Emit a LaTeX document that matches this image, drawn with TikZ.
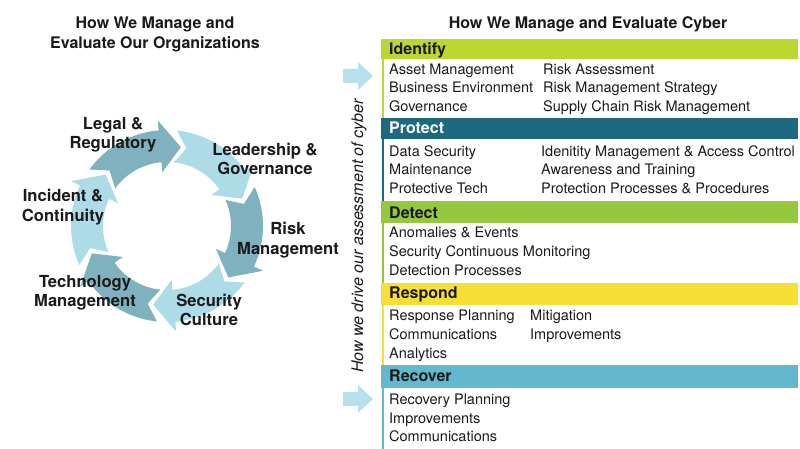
\documentclass[tikz,border=0pt]{standalone}
\usepackage{fontspec}
\setmainfont{TeX Gyre Heros}
\usepackage{tikz}
\usetikzlibrary{positioning,calc}
\definecolor{idgreen}{HTML}{BED630}
\definecolor{protblue}{HTML}{1C6980}
\definecolor{detgreen}{HTML}{95C83F}
\definecolor{respyellow}{HTML}{F8DF36}
\definecolor{recblue}{HTML}{63B8CD}
\definecolor{arrdark}{HTML}{80B1BE}
\definecolor{arrlight}{HTML}{ADDCE8}
\definecolor{sidearrow}{HTML}{B8E0EB}
\definecolor{ink}{HTML}{1A1A1A}

\begin{document}
\begin{tikzpicture}[x=1pt, y=-1pt,
    title/.style={align=center, text=ink, font=\fontsize{16}{20}\selectfont\bfseries},
    cyclabel/.style={align=center, text=ink, font=\fontsize{16.6}{19.5}\selectfont\bfseries},
    header/.style={anchor=base west, inner sep=0pt, text=ink, font=\fontsize{16}{19}\selectfont\bfseries},
    item/.style={anchor=base west, inner sep=0pt, text=ink, font=\fontsize{14.5}{17}\selectfont}]
    \useasboundingbox (0,0) rectangle (800,449);

    % Titles
    \node[title] (orgtitle) at (155,34) {How We Manage and\\Evaluate Our Organizations};
    \node[title] (cybertitle) at (588,24) {How We Manage and Evaluate Cyber};

    % Cycle of six curved arrows
    \begin{scope}[shift={(167,226)}, yscale=-1]
    \foreach \tailang/\col in {136/arrdark, 76/arrlight, 16/arrdark, -44/arrlight, -104/arrdark, -164/arrlight}{
        \pgfmathsetmacro{\tipang}{\tailang-56}
        \pgfmathsetmacro{\headang}{\tipang+15}
        \pgfmathsetmacro{\backang}{\tailang+8}
        \fill[\col] (\backang:96) arc[start angle=\backang, end angle=\headang, radius=96]
            -- (\headang:106) -- (\tipang:80) -- (\headang:54) -- (\headang:64)
            arc[start angle=\headang, end angle=\backang, radius=64] -- (\tailang:80) -- cycle;
    }
    \end{scope}

    % Cycle labels
    \node[cyclabel] (legal) at (113,135) {Legal \&\\Regulatory};
    \node[cyclabel] (leader) at (265,159) {Leadership \&\\Governance};
    \node[cyclabel] (risk) at (288,240) {Risk\\Management};
    \node[cyclabel] (culture) at (209,310) {Security\\Culture};
    \node[cyclabel] (techmgmt) at (85,293) {Technology\\Management};
    \node[cyclabel] (incident) at (63,207) {Incident \&\\Continuity};

    % Side arrows and rotated caption
    \fill[sidearrow] (343,69) -- (358,69) -- (358,62) -- (373,76) -- (358,90) -- (358,83) -- (343,83) -- cycle;
    \fill[sidearrow] (343,392) -- (358,392) -- (358,385) -- (373,399) -- (358,413) -- (358,406) -- (343,406) -- cycle;
    \node[rotate=90, text=ink, font=\fontsize{16}{19}\selectfont\itshape] (drive) at (359,236)
        {How we drive our assessment of cyber};

    % Identify
    \fill[idgreen] (381,39) rectangle (798,59.5);
    \draw[idgreen, line width=2pt] (382.5,59.5) -- (382.5,118);
    \node[header] (identify) at (389,55) {Identify};
    \node[item] (id1) at (389,74.3) {Asset Management};
    \node[item] (id2) at (389,92.7) {Business Environment};
    \node[item] (id3) at (389,111.7) {Governance};
    \node[item] (id4) at (543,74.3) {Risk Assessment};
    \node[item] (id5) at (543,92.7) {Risk Management Strategy};
    \node[item] (id6) at (543,111.7) {Supply Chain Risk Management};

    % Protect
    \fill[protblue] (381,118) rectangle (798,139);
    \draw[protblue, line width=2pt] (382.5,139) -- (382.5,201);
    \node[header, text=white] (protect) at (389,134) {Protect};
    \node[item] (pr1) at (389,156.5) {Data Security};
    \node[item] (pr2) at (389,175) {Maintenance};
    \node[item] (pr3) at (389,193.5) {Protective Tech};
    \node[item] (pr4) at (541,156.5) {Idenitity Management \& Access Control};
    \node[item] (pr5) at (541,175) {Awareness and Training};
    \node[item] (pr6) at (541,193.5) {Protection Processes \& Procedures};

    % Detect
    \fill[detgreen] (381,201) rectangle (798,223);
    \draw[detgreen, line width=2pt] (382.5,223) -- (382.5,283);
    \node[header] (detect) at (389,218.3) {Detect};
    \node[item] (de1) at (389,237.7) {Anomalies \& Events};
    \node[item] (de2) at (389,256.2) {Security Continuous Monitoring};
    \node[item] (de3) at (389,275) {Detection Processes};

    % Respond
    \fill[respyellow] (381,283) rectangle (798,305);
    \draw[respyellow, line width=2pt] (382.5,305) -- (382.5,365);
    \node[header] (respond) at (389,298.3) {Respond};
    \node[item] (re1) at (389,320.7) {Response Planning};
    \node[item] (re2) at (389,339.3) {Communications};
    \node[item] (re3) at (389,358.3) {Analytics};
    \node[item] (re4) at (530,320.7) {Mitigation};
    \node[item] (re5) at (530,339.3) {Improvements};

    % Recover
    \fill[recblue] (381,365) rectangle (798,388);
    \draw[recblue, line width=2pt] (382.5,388) -- (382.5,449);
    \node[header] (recover) at (389,381) {Recover};
    \node[item] (rc1) at (389,404.3) {Recovery Planning};
    \node[item] (rc2) at (389,423.3) {Improvements};
    \node[item] (rc3) at (389,441.7) {Communications};
\end{tikzpicture}
\end{document}
